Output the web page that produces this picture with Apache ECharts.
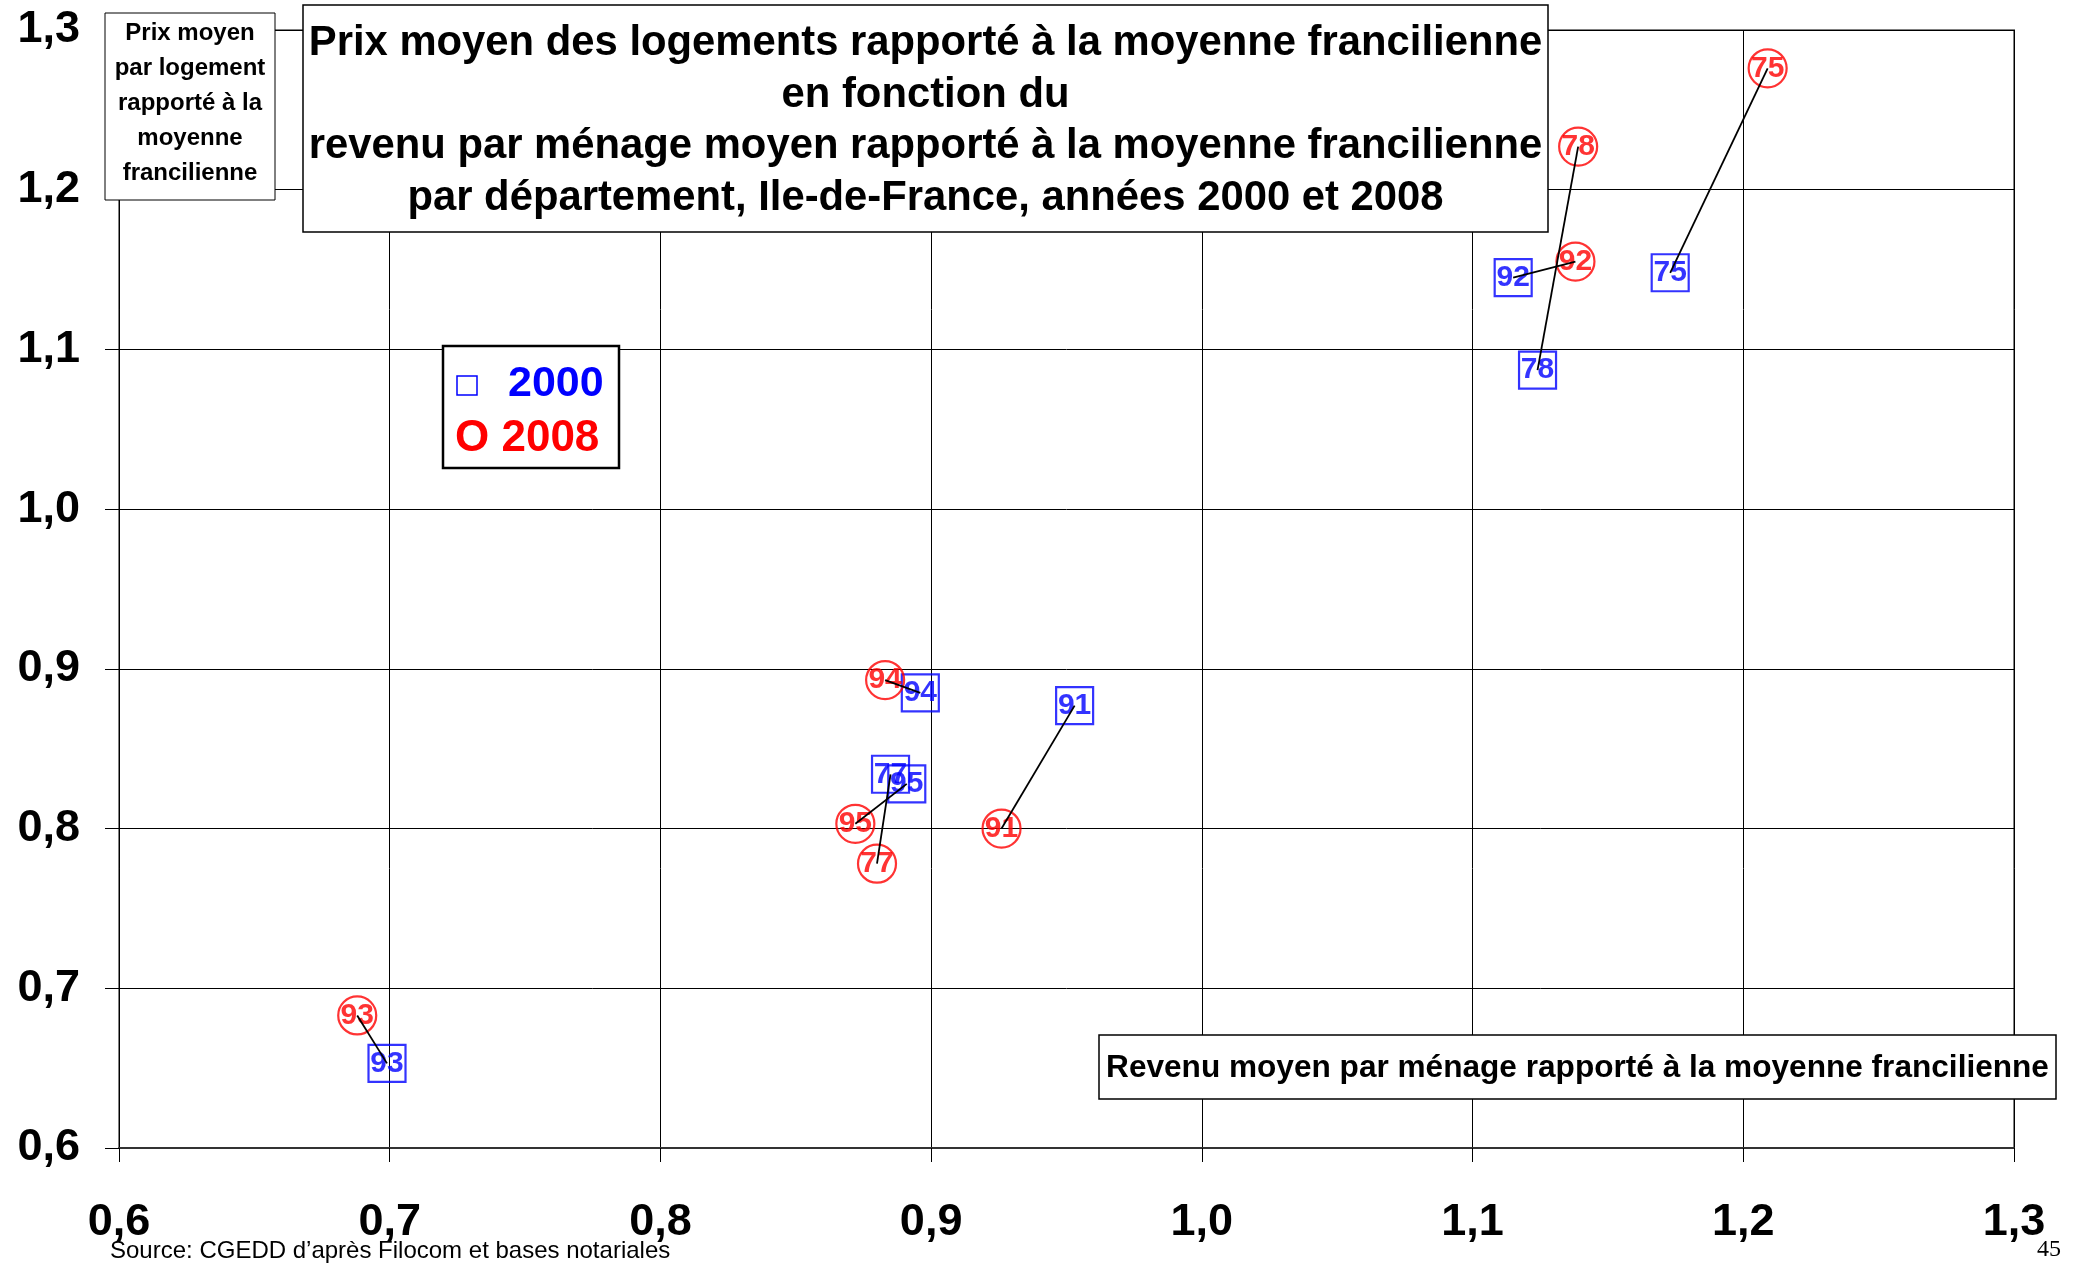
<!DOCTYPE html>
<html lang="fr">
<head>
<meta charset="utf-8">
<title>Prix moyen des logements et revenu par ménage, Ile-de-France</title>
<script src="https://cdn.jsdelivr.net/npm/echarts@6/dist/echarts.min.js"></script>
<style>
  html, body { margin: 0; padding: 0; background: #fff; }
  #chart { width: 2078px; height: 1263px; }
</style>
</head>
<body>
<div id="chart"></div>
<script>
// Départements d'Ile-de-France
const departements = ['75', '78', '92', '91', '94', '77', '95', '93'];

// Année 2000 : revenu moyen par ménage (x) et prix moyen par logement (y),
// rapportés à la moyenne francilienne
const revenu2000 = [1.173, 1.124, 1.115, 0.953, 0.896, 0.885, 0.891, 0.699];
const prix2000   = [1.148, 1.087, 1.145, 0.877, 0.885, 0.834, 0.828, 0.653];

// Année 2008
const revenu2008 = [1.209, 1.139, 1.138, 0.926, 0.883, 0.880, 0.872, 0.688];
const prix2008   = [1.276, 1.227, 1.155, 0.800, 0.893, 0.778, 0.803, 0.683];

// Graduations des deux axes
const tickValues = [0.6, 0.7, 0.8, 0.9, 1.0, 1.1, 1.2, 1.3];
const tickLabels = ['0,6', '0,7', '0,8', '0,9', '1,0', '1,1', '1,2', '1,3'];

const BLUE = '#0000FF';
const RED = '#FF0000';
const SANS = "'Liberation Sans', Arial, Helvetica, sans-serif";

function tickLabel(v) {
  const i = tickValues.findIndex(t => Math.abs(t - v) < 1e-6);
  return i >= 0 ? tickLabels[i] : '';
}

const points2000 = departements.map((d, i) => ({ name: d, value: [revenu2000[i], prix2000[i]] }));
const points2008 = departements.map((d, i) => ({ name: d, value: [revenu2008[i], prix2008[i]] }));

// Segment reliant la position 2000 à la position 2008 de chaque département
const liaisons = departements.map((d, i) => ({
  name: 'Evolution ' + d,
  type: 'line',
  data: [[revenu2000[i], prix2000[i]], [revenu2008[i], prix2008[i]]],
  symbol: 'none',
  lineStyle: { color: '#000', width: 1.8 },
  silent: true,
  z: 5
}));

const axisCommon = {
  type: 'value',
  min: 0.6,
  max: 1.3,
  interval: 0.1,
  axisTick: { show: true, inside: false, length: 14, lineStyle: { color: '#000', width: 1 } },
  splitLine: { show: true, lineStyle: { color: '#000', width: 1 } },
  axisLabel: {
    formatter: tickLabel,
    fontFamily: SANS,
    fontWeight: 'bold',
    fontSize: 45,
    color: '#000'
  }
};

const chart = echarts.init(document.getElementById('chart'), null, { renderer: 'canvas' });

chart.setOption({
  backgroundColor: '#fff',
  animation: false,
  grid: {
    left: 119, right: 64, top: 30, bottom: 115,
    show: true, borderColor: '#808080', borderWidth: 2, backgroundColor: 'transparent'
  },
  xAxis: Object.assign({}, axisCommon, {
    axisLine: { show: true, onZero: false, lineStyle: { color: '#333', width: 2 } },
    axisLabel: Object.assign({}, axisCommon.axisLabel, { margin: 52 })
  }),
  yAxis: Object.assign({}, axisCommon, {
    axisLine: { show: true, onZero: false, lineStyle: { color: '#000', width: 1 } },
    axisLabel: Object.assign({}, axisCommon.axisLabel, { margin: 39 })
  }),
  series: [
    {
      name: '2000',
      type: 'scatter',
      data: points2000,
      symbol: 'rect',
      symbolSize: 37,
      itemStyle: { color: 'rgba(255,255,255,0)', borderColor: BLUE, borderWidth: 2.2 },
      label: {
        show: true, position: 'inside', formatter: p => p.name,
        color: BLUE, fontFamily: SANS, fontWeight: 'bold', fontSize: 30
      },
      z: 3
    },
    {
      name: '2008',
      type: 'scatter',
      data: points2008,
      symbol: 'circle',
      symbolSize: 38,
      itemStyle: { color: 'rgba(255,255,255,0)', borderColor: RED, borderWidth: 2.2 },
      label: {
        show: true, position: 'inside', formatter: p => p.name,
        color: RED, fontFamily: SANS, fontWeight: 'bold', fontSize: 30
      },
      z: 4
    }
  ].concat(liaisons),
  graphic: [
    // Cadre du titre
    {
      type: 'rect', z: 100,
      shape: { x: 303, y: 5, width: 1245, height: 227 },
      style: { fill: '#fff', stroke: '#000', lineWidth: 1.5 }
    },
    {
      type: 'text', z: 101,
      style: {
        x: 925.5, y: 121,
        text: 'Prix moyen des logements rapporté à la moyenne francilienne\nen fonction du\nrevenu par ménage moyen rapporté à la moyenne francilienne\npar département, Ile-de-France, années 2000 et 2008',
        font: 'bold 41.8px ' + SANS, lineHeight: 51.7, fill: '#000',
        align: 'center', verticalAlign: 'middle', textAlign: 'center', textVerticalAlign: 'middle'
      }
    },
    // Intitulé de l'axe vertical
    {
      type: 'rect', z: 100,
      shape: { x: 105, y: 13, width: 170, height: 187 },
      style: { fill: '#fff', stroke: '#000', lineWidth: 1 }
    },
    {
      type: 'text', z: 101,
      style: {
        x: 190, y: 103,
        text: 'Prix moyen\npar logement\nrapporté à la\nmoyenne\nfrancilienne',
        font: 'bold 24px ' + SANS, lineHeight: 35, fill: '#000',
        align: 'center', verticalAlign: 'middle', textAlign: 'center', textVerticalAlign: 'middle'
      }
    },
    // Intitulé de l'axe horizontal
    {
      type: 'rect', z: 100,
      shape: { x: 1099, y: 1035, width: 957, height: 64 },
      style: { fill: '#fff', stroke: '#000', lineWidth: 1.5 }
    },
    {
      type: 'text', z: 101,
      style: {
        x: 1577.5, y: 1068,
        text: 'Revenu moyen par ménage rapporté à la moyenne francilienne',
        font: 'bold 31.6px ' + SANS, fill: '#000',
        align: 'center', verticalAlign: 'middle', textAlign: 'center', textVerticalAlign: 'middle'
      }
    },
    // Légende
    {
      type: 'rect', z: 100,
      shape: { x: 443, y: 346, width: 176, height: 122 },
      style: { fill: '#fff', stroke: '#000', lineWidth: 2.5 }
    },
    {
      type: 'rect', z: 101,
      shape: { x: 457, y: 376, width: 20, height: 19 },
      style: { fill: 'none', stroke: BLUE, lineWidth: 1.5 }
    },
    {
      type: 'text', z: 101,
      style: {
        x: 508, y: 384, text: '2000', font: 'bold 43px ' + SANS, fill: BLUE,
        align: 'left', verticalAlign: 'middle', textAlign: 'left', textVerticalAlign: 'middle'
      }
    },
    {
      type: 'text', z: 101,
      style: {
        x: 455, y: 439, text: 'O 2008', font: 'bold 44px ' + SANS, fill: RED,
        align: 'left', verticalAlign: 'middle', textAlign: 'left', textVerticalAlign: 'middle'
      }
    },
    // Source et numéro de page
    {
      type: 'text', z: 101,
      style: {
        x: 110, y: 1251, text: 'Source: CGEDD d’après Filocom et bases notariales',
        font: '24px ' + SANS, fill: '#000',
        align: 'left', verticalAlign: 'middle', textAlign: 'left', textVerticalAlign: 'middle'
      }
    },
    {
      type: 'text', z: 101,
      style: {
        x: 2049, y: 1250, text: '45',
        font: '24px Liberation Serif, Times New Roman, serif', fill: '#000',
        align: 'center', verticalAlign: 'middle', textAlign: 'center', textVerticalAlign: 'middle'
      }
    }
  ]
});
</script>
</body>
</html>
